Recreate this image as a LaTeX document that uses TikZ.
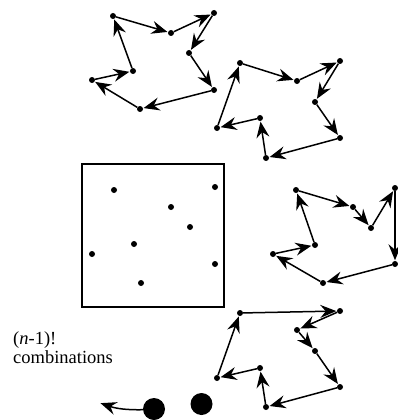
\documentclass[tikz,border=0pt]{standalone}
\usepackage{fontspec}
\setmainfont{Liberation Serif}
\usetikzlibrary{arrows.meta}
\begin{document}
\begin{tikzpicture}[x=1pt,y=-1pt,
  dot/.style={circle,fill=black,inner sep=0pt,minimum size=6pt},
  bigdot/.style={circle,fill=black,inner sep=0pt,minimum size=22pt},
  tourarrow/.style={-{Stealth[length=16pt,width=13pt,inset=5.5pt]},line width=1.5pt,shorten >=0.5pt},
  frame/.style={draw,line width=1.4pt,inner sep=0pt,minimum width=142pt,minimum height=143pt}]
\useasboundingbox (0,0) rectangle (398,420);
% tour 1
\node[dot] (a1) at (113,16) {};
\node[dot] (a2) at (171,33) {};
\node[dot] (a3) at (214,13) {};
\node[dot] (a4) at (189,53) {};
\node[dot] (a5) at (214,90) {};
\node[dot] (a6) at (140,109) {};
\node[dot] (a7) at (92,80) {};
\node[dot] (a8) at (133,71) {};
\foreach \p/\q in {a1/a2,a2/a3,a3/a4,a4/a5,a5/a6,a6/a7,a7/a8,a8/a1}
  \draw[tourarrow] (\p) -- (\q);
% tour 2
\node[dot] (b1) at (240,63) {};
\node[dot] (b2) at (297,81) {};
\node[dot] (b3) at (340,61) {};
\node[dot] (b4) at (315,102) {};
\node[dot] (b5) at (340,138) {};
\node[dot] (b6) at (266,158) {};
\node[dot] (b7) at (260,118) {};
\node[dot] (b8) at (217,128) {};
\foreach \p/\q in {b1/b2,b2/b3,b3/b4,b4/b5,b5/b6,b6/b7,b7/b8,b8/b1}
  \draw[tourarrow] (\p) -- (\q);
% tour 3
\node[dot] (c1) at (296,190) {};
\node[dot] (c2) at (353,207) {};
\node[dot] (c3) at (371,228) {};
\node[dot] (c4) at (395,188) {};
\node[dot] (c5) at (395,264) {};
\node[dot] (c6) at (323,283) {};
\node[dot] (c7) at (273,254) {};
\node[dot] (c8) at (315,245) {};
\foreach \p/\q in {c1/c2,c2/c3,c3/c4,c4/c5,c5/c6,c6/c7,c7/c8,c8/c1}
  \draw[tourarrow] (\p) -- (\q);
% tour 4
\node[dot] (d1) at (240,313) {};
\node[dot] (d2) at (340,311) {};
\node[dot] (d3) at (297,330) {};
\node[dot] (d4) at (315,351) {};
\node[dot] (d5) at (340,387) {};
\node[dot] (d6) at (266,407) {};
\node[dot] (d7) at (260,368) {};
\node[dot] (d8) at (217,378) {};
\foreach \p/\q in {d1/d2,d2/d3,d3/d4,d4/d5,d5/d6,d6/d7,d7/d8,d8/d1}
  \draw[tourarrow] (\p) -- (\q);
% square of cities
\node[frame] (box) at (153,235.5) {};
\node[dot] (s1) at (114,190) {};
\node[dot] (s2) at (215,187) {};
\node[dot] (s3) at (171,207) {};
\node[dot] (s4) at (190,227) {};
\node[dot] (s5) at (134,244) {};
\node[dot] (s6) at (92,254) {};
\node[dot] (s7) at (215,264) {};
\node[dot] (s8) at (141,283) {};
% text and continuation
\node[align=left,anchor=base west,inner sep=0pt,font=\fontsize{18.5pt}{19pt}\selectfont] (lbl) at (13,363) {(\textit{n}-1)!\\combinations};
\node[bigdot] (big1) at (154,409) {};
\node[bigdot] (big2) at (201.5,404) {};
\coordinate (tip) at (100,403);
\draw[tourarrow,bend left=10] (big1) to (tip);
\end{tikzpicture}
\end{document}
